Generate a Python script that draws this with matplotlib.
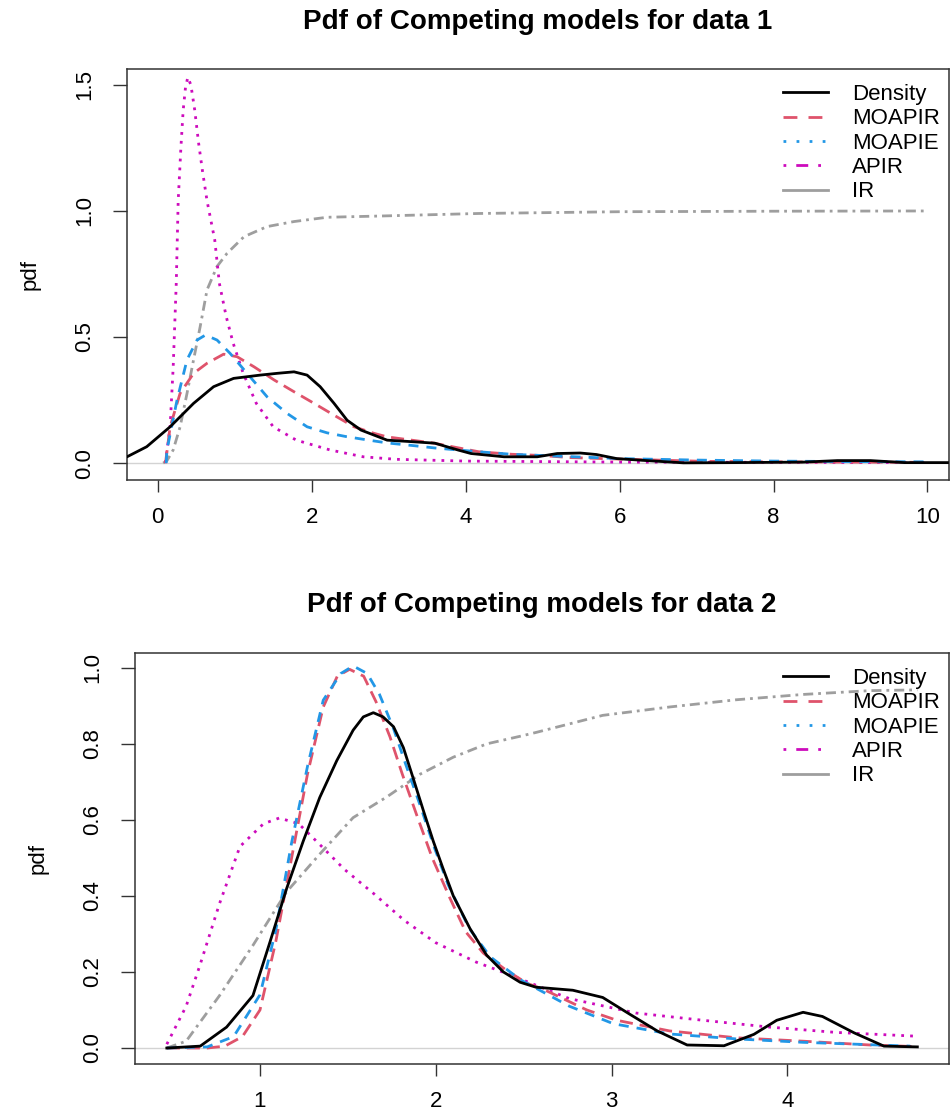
import matplotlib
matplotlib.use("Agg")
import matplotlib.pyplot as plt
from matplotlib.lines import Line2D

plt.rcParams['font.family'] = ['Liberation Sans', 'DejaVu Sans']

# ---------------- data 1 ----------------
d1_density_x = [-0.40, -0.144, 0.16, 0.465, 0.725, 0.985, 1.33, 1.55, 1.77, 1.94, 2.11, 2.29, 2.46, 2.64, 2.81,
                2.98, 3.3, 3.6, 3.9, 4.07, 4.5, 4.93, 5.19, 5.49, 5.7, 5.96, 6.3, 6.83, 7.52, 8.39, 8.83, 9.26,
                9.7, 10.26]
d1_density_y = [0.025, 0.065, 0.144, 0.237, 0.303, 0.336, 0.349, 0.356, 0.362, 0.349, 0.303, 0.237, 0.17, 0.131,
                0.111, 0.091, 0.085, 0.079, 0.052, 0.038, 0.025, 0.025, 0.038, 0.04, 0.034, 0.018, 0.011, 0.001,
                0.002, 0.004, 0.01, 0.01, 0.002, 0.002]

d1_moapir_x = [0.10, 0.16, 0.29, 0.465, 0.64, 0.855, 1.03, 1.25, 1.51, 1.77, 2.03, 2.29, 2.55, 2.81, 2.98, 3.57,
               4.17, 4.6, 5.0, 5.35, 6.0, 7.1, 8.0, 9.0, 10.0]
d1_moapir_y = [0.0, 0.144, 0.277, 0.356, 0.396, 0.432, 0.422, 0.382, 0.33, 0.283, 0.237, 0.19, 0.144, 0.118,
               0.104, 0.08, 0.045, 0.035, 0.03, 0.022, 0.016, 0.007, 0.005, 0.004, 0.003]

d1_moapie_x = [0.11, 0.118, 0.25, 0.38, 0.51, 0.62, 0.77, 0.94, 1.16, 1.42, 1.68, 1.94, 2.2, 2.45, 2.72, 2.98,
               3.3, 3.6, 4.17, 4.6, 5.0, 5.5, 6.0, 7.0, 8.0, 9.0, 10.0]
d1_moapie_y = [0.0, 0.05, 0.25, 0.41, 0.488, 0.508, 0.488, 0.435, 0.356, 0.263, 0.197, 0.144, 0.12, 0.105, 0.092,
               0.08, 0.07, 0.06, 0.045, 0.035, 0.03, 0.024, 0.018, 0.012, 0.008, 0.006, 0.005]

d1_apir_x = [0.097, 0.16, 0.2, 0.24, 0.265, 0.30, 0.33, 0.36, 0.39, 0.43, 0.48, 0.53, 0.58, 0.64, 0.74, 0.8,
             0.89, 0.98, 1.11, 1.28, 1.5, 1.8, 2.24, 2.67, 3.1, 4.0, 6.0, 8.0, 10.0]
d1_apir_y = [0.0, 0.144, 0.38, 0.713, 1.04, 1.25, 1.40, 1.49, 1.53, 1.50, 1.40, 1.27, 1.16, 1.04, 0.885, 0.713,
             0.58, 0.475, 0.356, 0.237, 0.144, 0.091, 0.052, 0.025, 0.015, 0.008, 0.004, 0.003, 0.002]

d1_ir_x = [0.07, 0.12, 0.2, 0.29, 0.38, 0.465, 0.55, 0.64, 0.77, 0.9, 1.12, 1.42, 1.77, 2.2, 2.9, 4.17, 6.0,
           8.0, 10.0]
d1_ir_y = [0.0, 0.01, 0.052, 0.144, 0.277, 0.41, 0.54, 0.687, 0.78, 0.832, 0.898, 0.938, 0.958, 0.975, 0.98,
           0.99, 0.997, 0.999, 1.0]

# ---------------- data 2 ----------------
d2_density_x = [0.47, 0.66, 0.81, 0.96, 1.057, 1.152, 1.246, 1.34, 1.437, 1.53, 1.588, 1.645, 1.70, 1.76, 1.816,
                1.87, 1.93, 1.986, 2.04, 2.10, 2.195, 2.29, 2.385, 2.48, 2.57, 2.78, 2.95, 3.1, 3.26, 3.43, 3.64,
                3.81, 3.94, 4.09, 4.2, 4.38, 4.55, 4.74]
d2_density_y = [0.0, 0.005, 0.055, 0.138, 0.279, 0.42, 0.544, 0.659, 0.756, 0.836, 0.871, 0.882, 0.871, 0.845,
                0.79, 0.712, 0.624, 0.544, 0.474, 0.40, 0.314, 0.244, 0.20, 0.173, 0.16, 0.152, 0.133, 0.09,
                0.045, 0.008, 0.006, 0.036, 0.073, 0.094, 0.083, 0.04, 0.005, 0.003]

d2_moapir_x = [0.47, 0.7, 0.8, 0.9, 1.0, 1.09, 1.18, 1.27, 1.36, 1.44, 1.51, 1.59, 1.66, 1.74, 1.81, 1.89, 1.98,
               2.08, 2.17, 2.27, 2.40, 2.52, 2.61, 2.86, 3.03, 3.33, 3.71, 4.09, 4.47, 4.72]
d2_moapir_y = [0.0, 0.0, 0.005, 0.03, 0.10, 0.28, 0.50, 0.72, 0.897, 0.978, 0.996, 0.978, 0.911, 0.818, 0.72,
               0.615, 0.50, 0.395, 0.306, 0.25, 0.205, 0.17, 0.155, 0.10, 0.073, 0.045, 0.027, 0.018, 0.008, 0.004]

d2_moapie_x = [0.47, 0.7, 0.85, 1.0, 1.09, 1.18, 1.27, 1.36, 1.46, 1.53, 1.61, 1.68, 1.76, 1.83, 1.91, 1.99,
               2.07, 2.19, 2.31, 2.48, 2.76, 3.01, 3.33, 3.71, 4.09, 4.70]
d2_moapie_y = [0.0, 0.003, 0.03, 0.14, 0.31, 0.54, 0.74, 0.915, 0.985, 1.005, 0.985, 0.93, 0.84, 0.745, 0.64,
               0.53, 0.43, 0.315, 0.24, 0.18, 0.11, 0.064, 0.037, 0.024, 0.015, 0.005]

d2_apir_x = [0.47, 0.58, 0.66, 0.77, 0.886, 1.02, 1.11, 1.22, 1.33, 1.48, 1.65, 1.82, 2.0, 2.23, 2.42, 2.76,
             3.14, 3.52, 3.90, 4.28, 4.74]
d2_apir_y = [0.01, 0.11, 0.22, 0.38, 0.53, 0.59, 0.605, 0.59, 0.54, 0.47, 0.405, 0.336, 0.277, 0.226, 0.193,
             0.13, 0.092, 0.073, 0.055, 0.041, 0.031]

d2_ir_x = [0.47, 0.58, 0.77, 0.96, 1.15, 1.34, 1.53, 1.72, 1.91, 2.10, 2.29, 2.48, 2.57, 2.95, 3.33, 3.71, 4.09,
           4.47, 4.74]
d2_ir_y = [0.0, 0.018, 0.138, 0.27, 0.41, 0.51, 0.606, 0.66, 0.72, 0.765, 0.80, 0.82, 0.83, 0.875, 0.897,
           0.916, 0.93, 0.94, 0.942]

legend_labels = ["Density", "MOAPIR", "MOAPIE", "APIR", "IR"]
titles = ["Pdf of Competing models for data 1", "Pdf of Competing models for data 2"]

# ---------------- styling ----------------
COL = {"black": "black", "red": "#DF536B", "blue": "#2297E6", "mag": "#CD0BBC", "gray": "#9E9E9E"}
LW = 2.0
FS = 16
W, H = 951, 1112

fig = plt.figure(figsize=(W / 100, H / 100), dpi=100)


def px_axes(left, right, top, bottom):
    return fig.add_axes([left / W, 1 - bottom / H, (right - left) / W, (bottom - top) / H])


def style_axes(ax, xticks, yticks, yfmt):
    for s in ax.spines.values():
        s.set_color("#333333")
        s.set_linewidth(1.1)
    ax.set_xticks(xticks)
    ax.set_yticks(yticks)
    ax.set_yticklabels([yfmt.format(v) for v in yticks], rotation=90, va="center", ha="right")
    ax.tick_params(axis="both", direction="out", width=1.0, color="#333333",
                   labelsize=FS, labelcolor="black")
    ax.tick_params(axis="x", length=8.5, pad=11)
    ax.tick_params(axis="y", length=10, pad=13)


def draw_panel(ax, data):
    ax.axhline(0, color="lightgray", lw=1.0, zorder=1)
    (dx, dy), (rx, ry), (bx, by), (mx, my), (gx, gy) = data
    ax.plot(dx, dy, color=COL["black"], lw=LW, zorder=5)
    ax.plot(rx, ry, color=COL["red"], lw=LW, linestyle=(0, (4.7, 2.5)), zorder=4)
    ax.plot(bx, by, color=COL["blue"], lw=LW, linestyle=(0, (3.6, 2.9)), zorder=4)
    ax.plot(mx, my, color=COL["mag"], lw=LW, linestyle=(0, (1.0, 2.2)), zorder=3)
    ax.plot(gx, gy, color=COL["gray"], lw=LW, linestyle=(0, (3.6, 1.8, 1.0, 1.8)), zorder=2)


def legend_handles():
    return [
        Line2D([], [], color=COL["black"], lw=LW),
        Line2D([], [], color=COL["red"], lw=LW, linestyle=(0, (5, 4))),
        Line2D([], [], color=COL["blue"], lw=LW, linestyle=(0, (1, 3.7))),
        Line2D([], [], color=COL["mag"], lw=LW, linestyle=(0, (1, 3.6, 4.3, 3.6))),
        Line2D([], [], color=COL["gray"], lw=LW),
    ]


def add_legend(ax, left, right, top, bottom):
    return ax.legend(legend_handles(), legend_labels, loc="upper left",
                     bbox_to_anchor=((783 - left) / (right - left), (bottom - (top + 15)) / (bottom - top)),
                     frameon=False, fontsize=FS, handlelength=2.03, handletextpad=1.08,
                     labelspacing=0.15, borderpad=0, borderaxespad=0)


# ---------- top panel ----------
T1 = (127, 949, 69, 480)
ax1 = px_axes(*T1)
draw_panel(ax1, [(d1_density_x, d1_density_y), (d1_moapir_x, d1_moapir_y), (d1_moapie_x, d1_moapie_y),
                 (d1_apir_x, d1_apir_y), (d1_ir_x, d1_ir_y)])
ax1.set_xlim(-0.40, 10.28)
ax1.set_ylim(-0.067, 1.563)
style_axes(ax1, [0, 2, 4, 6, 8, 10], [0.0, 0.5, 1.0, 1.5], "{:.1f}")
add_legend(ax1, *T1)
fig.text((T1[0] + T1[1]) / 2 / W, 1 - 22 / H, titles[0], ha="center", va="center",
         fontsize=20, fontweight="bold")
fig.text(30 / W, 1 - 274 / H, "pdf", ha="center", va="center", rotation=90, fontsize=FS)

# ---------- bottom panel ----------
T2 = (135, 949, 653, 1064)
ax2 = px_axes(*T2)
draw_panel(ax2, [(d2_density_x, d2_density_y), (d2_moapir_x, d2_moapir_y), (d2_moapie_x, d2_moapie_y),
                 (d2_apir_x, d2_apir_y), (d2_ir_x, d2_ir_y)])
ax2.set_xlim(0.289, 4.92)
ax2.set_ylim(-0.042, 1.039)
style_axes(ax2, [1, 2, 3, 4], [0.0, 0.2, 0.4, 0.6, 0.8, 1.0], "{:.1f}")
add_legend(ax2, *T2)
fig.text((T2[0] + T2[1]) / 2 / W, 1 - 605 / H, titles[1], ha="center", va="center",
         fontsize=20, fontweight="bold")
fig.text(38 / W, 1 - 858 / H, "pdf", ha="center", va="center", rotation=90, fontsize=FS)

fig.savefig("out.png", dpi=100)
